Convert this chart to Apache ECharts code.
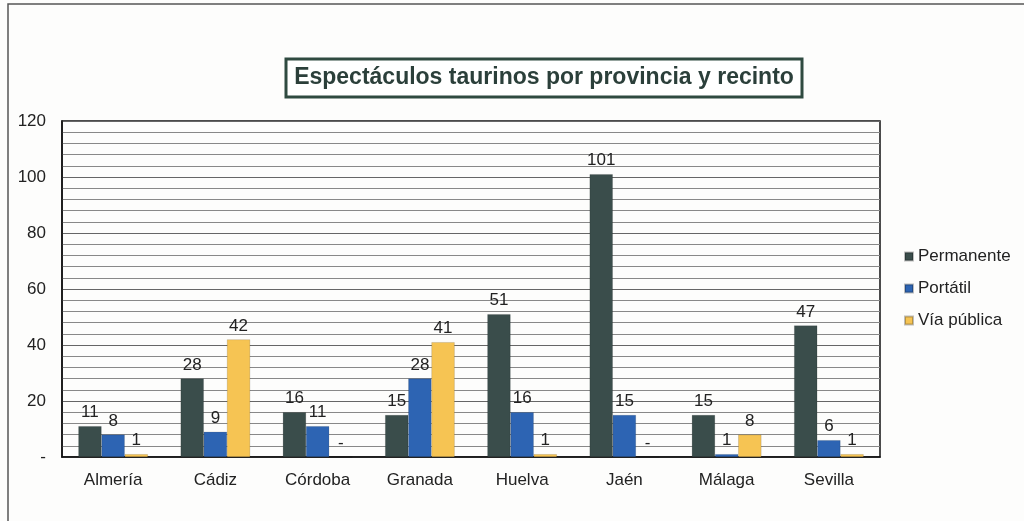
<!DOCTYPE html>
<html><head><meta charset="utf-8">
<script src="https://cdn.jsdelivr.net/npm/echarts@6/dist/echarts.min.js"></script>
<style>html,body{margin:0;padding:0;background:#fff}#c{width:1024px;height:521px}</style>
</head><body><div id="c"></div>
<script>
const categories = ['Almería','Cádiz','Córdoba','Granada','Huelva','Jaén','Málaga','Sevilla'];
const permanente = [11, 28, 16, 15, 51, 101, 15, 47];
const portatil = [8, 9, 11, 28, 16, 15, 1, 6];
const viaPublica = [1, 42, null, 41, 1, null, 8, 1];
const seriesNames = ['Permanente','Portátil','Vía pública'];
const yTicks = [0, 20, 40, 60, 80, 100, 120];

const colors = ['#3a4d4b', '#2d64b3', '#f6c453'];
const font = 'Liberation Sans, Arial, sans-serif';

function mk(name, arr, color) {
  return {
    name: name, type: 'bar', barGap: '0%', barCategoryGap: '32%',
    itemStyle: { color: color, borderColor: 'rgba(0,0,0,0.25)', borderWidth: 0.5 },
    data: arr.map(v => ({ value: v === null ? 0 : v, raw: v })),
    label: {
      show: true, position: 'top', distance: 5, color: '#222', fontSize: 17, fontFamily: font,
      formatter: p => p.data.raw === null ? '-' : String(p.data.raw)
    }
  };
}

const chart = echarts.init(document.getElementById('c'));
chart.setOption({
  backgroundColor: '#fdfdfc',
  animation: false,
  graphic: [
    { type: 'rect', shape: { x: 8, y: 4, width: 1030, height: 530 }, style: { fill: 'none', stroke: '#555', lineWidth: 1.5 } },
    { type: 'rect', shape: { x: 286, y: 59, width: 516, height: 38 }, style: { fill: '#fff', stroke: '#2f4a40', lineWidth: 3 } },
    { type: 'text', x: 544, y: 78, style: { text: 'Espectáculos taurinos por provincia y recinto', font: 'bold 23px ' + font, fill: '#2b3f3a', align: 'center', verticalAlign: 'middle' } }
  ],
  legend: {
    orient: 'vertical', left: 899, top: 243, itemGap: 15, itemWidth: 8, itemHeight: 8,
    icon: 'rect',
    textStyle: { fontSize: 17, fontFamily: font, color: '#222' },
    data: seriesNames
  },
  grid: { left: 62, right: 144, top: 121, bottom: 64, show: true, borderColor: '#111', borderWidth: 1.5, backgroundColor: 'transparent' },
  xAxis: {
    type: 'category', data: categories,
    axisTick: { show: false }, axisLine: { lineStyle: { color: '#111', width: 1.5 } },
    axisLabel: { fontSize: 17, fontFamily: font, color: '#222', margin: 15 }
  },
  yAxis: {
    type: 'value', min: yTicks[0], max: yTicks[yTicks.length - 1], interval: 20,
    axisLine: { show: true, lineStyle: { color: '#111', width: 1.5 } }, axisTick: { show: false },
    axisLabel: { fontSize: 17, fontFamily: font, color: '#222', margin: 16, formatter: v => v === 0 ? '-' : String(v) },
    splitLine: { lineStyle: { color: '#666', width: 1 } },
    minorTick: { show: false, splitNumber: 5 },
    minorSplitLine: { show: true, lineStyle: { color: '#888', width: 1 } }
  },
  series: [
    mk(seriesNames[0], permanente, colors[0]),
    mk(seriesNames[1], portatil, colors[1]),
    mk(seriesNames[2], viaPublica, colors[2])
  ]
});
</script></body></html>
